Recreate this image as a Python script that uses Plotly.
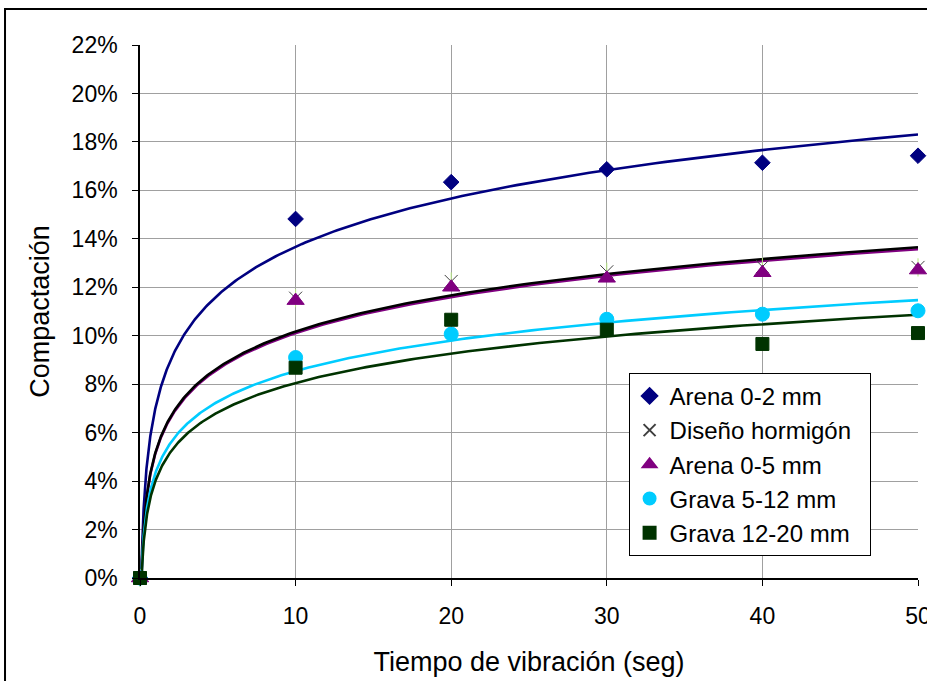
import numpy as np
import plotly.graph_objects as go

# Datos (compactación en %)
tiempo = [0, 10, 20, 30, 40, 50]
arena_0_2 = [0, 14.82, 16.34, 16.87, 17.14, 17.43]
diseno_hormigon = [0, 11.55, 12.24, 12.64, 12.85, 12.82]
arena_0_5 = [0, 11.45, 12.0, 12.37, 12.6, 12.71]
grava_5_12 = [0, 9.1, 10.07, 10.68, 10.89, 11.03]
grava_12_20 = [0, 8.68, 10.66, 10.25, 9.66, 10.11]

# Líneas de tendencia logarítmicas y = a*ln(x) + b
tend_a = [2.88, 2.16, 2.15, 1.82, 1.75]
tend_b = [7.04, 5.20, 5.16, 4.35, 4.02]

nombres = ["Arena 0-2 mm", "Diseño hormigón", "Arena 0-5 mm", "Grava 5-12 mm", "Grava 12-20 mm"]
series = [arena_0_2, diseno_hormigon, arena_0_5, grava_5_12, grava_12_20]
colores = ["#000080", "#000000", "#800080", "#00ccff", "#003300"]
simbolos = ["diamond", "x-thin-open", "triangle-up", "circle", "square"]
tamanos = [12, 13, 15, 14, 13]

fig = go.Figure()

# Tendencias (primero, debajo de los puntos)
xt = np.geomspace(0.02, 50, 400)
orden = [0, 2, 1, 3, 4]
for i in orden:
    fig.add_trace(go.Scatter(
        x=xt, y=tend_a[i] * np.log(xt) + tend_b[i],
        mode="lines", line=dict(color=colores[i], width=2.6),
        showlegend=False, hoverinfo="skip"))

for i in range(5):
    col = "#404040" if i == 1 else colores[i]
    fig.add_trace(go.Scatter(
        x=tiempo, y=series[i], name=nombres[i] + "\u00a0\u00a0", mode="markers",
        marker=dict(symbol=simbolos[i], size=tamanos[i], color=col,
                    line=dict(color=col, width=1)),
        cliponaxis=False))
    if i == 1:
        # barra vertical del marcador estrella
        fig.add_trace(go.Scatter(
            x=tiempo, y=series[i], mode="markers", showlegend=False,
            marker=dict(symbol="line-ns-open", size=13, line=dict(color=col, width=1)),
            cliponaxis=False))

fig.update_layout(
    width=927, height=681,
    margin=dict(l=140, r=9, t=45, b=103),
    paper_bgcolor="white", plot_bgcolor="white",
    font=dict(family="Arial, Liberation Sans", size=23, color="black"),
    legend=dict(x=0.628, y=0.385, xanchor="left", yanchor="top",
                bgcolor="white", bordercolor="black", borderwidth=1,
                font=dict(size=24), tracegroupgap=0, itemsizing="constant"),
)

fig.update_xaxes(
    range=[0, 50], dtick=10, showgrid=True, gridcolor="#a0a0a0", gridwidth=1,
    showline=True, linecolor="black", linewidth=1.5,
    ticks="outside", ticklen=6, tickcolor="black", zeroline=False,
    ticklabelstandoff=11, ticklabeloverflow="allow", automargin=False,
    title=dict(text="Tiempo de vibración (seg)", font=dict(size=27), standoff=24),
)
fig.update_yaxes(
    range=[0, 22], dtick=2, ticksuffix="%", showgrid=True, gridcolor="#a0a0a0",
    gridwidth=1, showline=True, linecolor="black", linewidth=1.5,
    ticks="outside", ticklen=6, tickcolor="black", zeroline=False,
    ticklabelstandoff=10, automargin=False,
    title=dict(text="Compactación", font=dict(size=27), standoff=14),
)

# Borde del área del gráfico
fig.add_shape(type="rect", xref="paper", yref="paper",
              x0=-0.1735, y0=-0.4, x1=1.2, y1=1.0675,
              line=dict(color="black", width=2), layer="below")

fig.write_html("out.html", config={"displayModeBar": False},
               post_script="document.body.style.margin='0';")
